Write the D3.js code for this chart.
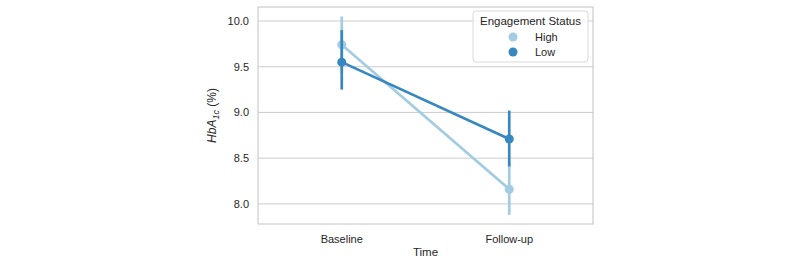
<!DOCTYPE html>
<html>
<head>
<meta charset="utf-8">
<script src="https://cdn.jsdelivr.net/npm/d3@7"></script>
<style>
  body { margin: 0; background: #fff; }
  text { font-family: Arial, "Liberation Sans", sans-serif; fill: #262626; }
</style>
</head>
<body>
<svg id="chart" width="800" height="265"></svg>
<script>
const width = 800;
const height = 265;
const margin = { top: 7, right: 207, bottom: 41, left: 258 };

const times = ["Baseline", "Follow-up"];
const groups = ["High", "Low"];
const colors = ["#a3cce3", "#3787c0"];
const yTicks = [8.0, 8.5, 9.0, 9.5, 10.0];

// mean, ci low, ci high for each time point
const highMean = [9.74, 8.16];
const highLo = [9.43, 7.88];
const highHi = [10.05, 8.44];
const lowMean = [9.55, 8.71];
const lowLo = [9.25, 8.41];
const lowHi = [9.90, 9.02];

const series = [
  { name: "High", mean: highMean, lo: highLo, hi: highHi },
  { name: "Low", mean: lowMean, lo: lowLo, hi: lowHi }
];

const svg = d3.select("#chart");

const x = d3.scalePoint()
  .domain(times)
  .range([margin.left, width - margin.right])
  .padding(0.5);

const y = d3.scaleLinear()
  .domain([7.78, 10.153])
  .range([height - margin.bottom, margin.top]);

const color = d3.scaleOrdinal().domain(groups).range(colors);

// grid
svg.append("g")
  .selectAll("line")
  .data(yTicks)
  .join("line")
  .attr("x1", margin.left)
  .attr("x2", width - margin.right)
  .attr("y1", d => y(d))
  .attr("y2", d => y(d))
  .attr("stroke", "#cccccc")
  .attr("stroke-width", 1);

// frame
svg.append("rect")
  .attr("x", margin.left)
  .attr("y", margin.top)
  .attr("width", width - margin.left - margin.right)
  .attr("height", height - margin.top - margin.bottom)
  .attr("fill", "none")
  .attr("stroke", "#cccccc")
  .attr("stroke-width", 1.2);

// y tick labels
svg.append("g")
  .selectAll("text")
  .data(yTicks)
  .join("text")
  .attr("x", margin.left - 9)
  .attr("y", d => y(d))
  .attr("dy", "0.35em")
  .attr("text-anchor", "end")
  .attr("font-size", 11)
  .text(d => d.toFixed(1));

// x tick labels
svg.append("g")
  .selectAll("text")
  .data(times)
  .join("text")
  .attr("x", d => x(d))
  .attr("y", height - margin.bottom + 19)
  .attr("text-anchor", "middle")
  .attr("font-size", 11)
  .text(d => d);

// axis labels
svg.append("text")
  .attr("x", (margin.left + width - margin.right) / 2)
  .attr("y", 256)
  .attr("text-anchor", "middle")
  .attr("font-size", 11.5)
  .text("Time");

const yl = svg.append("text")
  .attr("transform", `translate(216,${(margin.top + height - margin.bottom) / 2}) rotate(-90)`)
  .attr("text-anchor", "middle")
  .attr("font-size", 12);
yl.append("tspan").attr("font-style", "italic").text("HbA");
yl.append("tspan").attr("font-style", "italic").attr("font-size", 9).attr("dy", 3).text("1c");
yl.append("tspan").attr("dy", -3).text(" (%)");

// series
const line = d3.line().x(d => x(d.t)).y(d => y(d.v));

series.forEach(s => {
  const c = color(s.name);
  const g = svg.append("g");
  const pts = times.map((t, i) => ({ t, v: s.mean[i], lo: s.lo[i], hi: s.hi[i] }));

  g.selectAll("line.err")
    .data(pts)
    .join("line")
    .attr("class", "err")
    .attr("x1", d => x(d.t))
    .attr("x2", d => x(d.t))
    .attr("y1", d => y(d.lo))
    .attr("y2", d => y(d.hi))
    .attr("stroke", c)
    .attr("stroke-width", 2.7);

  g.append("path")
    .datum(pts)
    .attr("d", line)
    .attr("fill", "none")
    .attr("stroke", c)
    .attr("stroke-width", 2.7);

  g.selectAll("circle")
    .data(pts)
    .join("circle")
    .attr("cx", d => x(d.t))
    .attr("cy", d => y(d.v))
    .attr("r", 4.5)
    .attr("fill", c);
});

// legend
const legend = svg.append("g").attr("transform", "translate(473,11)");
legend.append("rect")
  .attr("width", 115)
  .attr("height", 51)
  .attr("rx", 3)
  .attr("fill", "#fff")
  .attr("fill-opacity", 0.8)
  .attr("stroke", "#d9d9d9");
legend.append("text")
  .attr("x", 57.5)
  .attr("y", 14)
  .attr("text-anchor", "middle")
  .attr("font-size", 11.5)
  .text("Engagement Status");
groups.forEach((gname, i) => {
  legend.append("circle")
    .attr("cx", 40)
    .attr("cy", 26 + i * 15)
    .attr("r", 4.5)
    .attr("fill", color(gname));
  legend.append("text")
    .attr("x", 62)
    .attr("y", 26 + i * 15)
    .attr("dy", "0.35em")
    .attr("font-size", 11)
    .text(gname);
});
</script>
</body>
</html>
